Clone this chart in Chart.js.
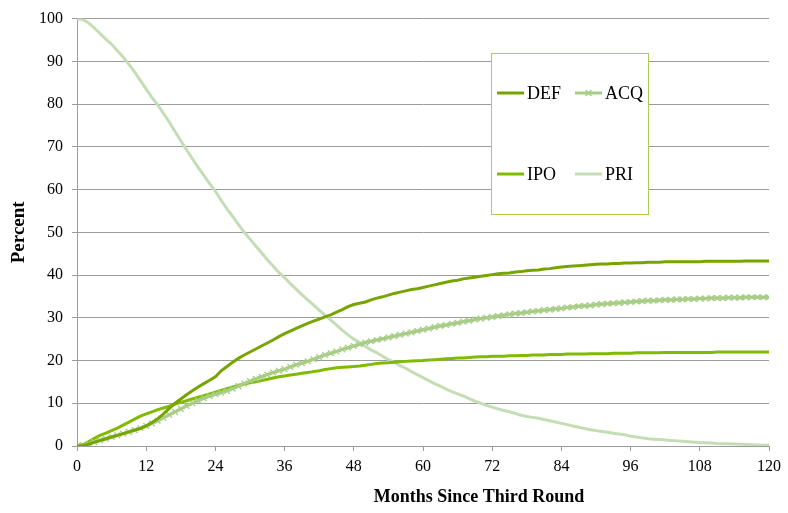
<!DOCTYPE html>
<html>
<head>
<meta charset="utf-8">
<title>Months Since Third Round</title>
<script src="https://cdn.jsdelivr.net/npm/chart.js@4/dist/chart.umd.min.js"></script>
<style>
  html, body { margin: 0; padding: 0; background: #fff; }
  #chart { display: block; }
</style>
</head>
<body>
<canvas id="chart" width="788" height="513"></canvas>
<script>
// months since third round (x categories)
const months = [
  0, 1, 2, 3, 4, 5, 6, 7, 8, 9, 10, 11, 12, 13, 14, 15, 16, 17, 18, 19, 20,
  21, 22, 23, 24, 25, 26, 27, 28, 29, 30, 31, 32, 33, 34, 35, 36, 37, 38, 39, 40,
  41, 42, 43, 44, 45, 46, 47, 48, 49, 50, 51, 52, 53, 54, 55, 56, 57, 58, 59, 60,
  61, 62, 63, 64, 65, 66, 67, 68, 69, 70, 71, 72, 73, 74, 75, 76, 77, 78, 79, 80,
  81, 82, 83, 84, 85, 86, 87, 88, 89, 90, 91, 92, 93, 94, 95, 96, 97, 98, 99, 100,
  101, 102, 103, 104, 105, 106, 107, 108, 109, 110, 111, 112, 113, 114, 115, 116, 117, 118, 119, 120
];

// percent values, one per month
const defValues = [
  0, 0.1, 0.4, 0.9, 1.3, 1.7, 2.1, 2.5, 2.9, 3.3, 3.7, 4.1, 4.7, 5.5, 6.4, 7.5, 8.8, 10, 11, 12, 12.9,
  13.8, 14.6, 15.4, 16.2, 17.6, 18.6, 19.6, 20.5, 21.3, 22, 22.7, 23.4, 24.1, 24.8, 25.6, 26.3, 26.9, 27.5, 28.1, 28.7,
  29.2, 29.7, 30.2, 30.7, 31.3, 31.9, 32.6, 33.1, 33.4, 33.7, 34.2, 34.6, 34.9, 35.3, 35.7, 36, 36.3, 36.6, 36.8, 37.1,
  37.4, 37.7, 38, 38.3, 38.6, 38.8, 39.1, 39.3, 39.5, 39.7, 39.9, 40.1, 40.3, 40.4, 40.5, 40.7, 40.8, 41, 41.1, 41.2,
  41.4, 41.5, 41.7, 41.9, 42, 42.1, 42.2, 42.3, 42.4, 42.5, 42.6, 42.6, 42.7, 42.7, 42.8, 42.8, 42.9, 42.9, 43, 43,
  43, 43.1, 43.1, 43.1, 43.1, 43.1, 43.1, 43.1, 43.2, 43.2, 43.2, 43.2, 43.2, 43.2, 43.2, 43.3, 43.3, 43.3, 43.3, 43.3
];

const acqValues = [
  0, 0.2, 0.5, 0.9, 1.3, 1.7, 2.1, 2.5, 2.9, 3.3, 3.7, 4.2, 4.7, 5.3, 5.9, 6.6, 7.3, 8, 8.7, 9.4, 10,
  10.6, 11.2, 11.7, 12.1, 12.5, 12.9, 13.4, 14, 14.6, 15.2, 15.7, 16.2, 16.7, 17.2, 17.6, 18, 18.5, 19, 19.4, 19.8,
  20.3, 20.8, 21.3, 21.7, 22.1, 22.6, 23, 23.4, 23.8, 24.2, 24.5, 24.8, 25.1, 25.4, 25.7, 26, 26.3, 26.6, 26.9, 27.2,
  27.5, 27.8, 28.1, 28.3, 28.6, 28.8, 29.1, 29.3, 29.6, 29.8, 30, 30.2, 30.4, 30.6, 30.8, 31, 31.1, 31.3, 31.5, 31.6,
  31.8, 31.9, 32.1, 32.2, 32.4, 32.5, 32.7, 32.8, 32.9, 33.1, 33.2, 33.3, 33.4, 33.5, 33.6, 33.7, 33.8, 33.9, 34, 34,
  34.1, 34.2, 34.2, 34.3, 34.3, 34.4, 34.4, 34.5, 34.5, 34.6, 34.6, 34.6, 34.7, 34.7, 34.7, 34.8, 34.8, 34.8, 34.8, 34.8
];

const ipoValues = [
  0, 0.3, 1, 1.8, 2.5, 3, 3.6, 4.2, 4.9, 5.6, 6.3, 7, 7.5, 8, 8.5, 8.9, 9.3, 9.8, 10.2, 10.6, 11,
  11.4, 11.8, 12.2, 12.6, 13, 13.4, 13.8, 14.2, 14.5, 14.8, 15, 15.3, 15.6, 15.9, 16.2, 16.4, 16.6, 16.8, 17, 17.2,
  17.4, 17.6, 17.9, 18.1, 18.3, 18.4, 18.5, 18.6, 18.7, 18.9, 19.1, 19.3, 19.4, 19.5, 19.6, 19.7, 19.8, 19.9, 19.95, 20,
  20.1, 20.2, 20.3, 20.4, 20.5, 20.6, 20.6, 20.7, 20.8, 20.9, 20.9, 21, 21, 21, 21.1, 21.1, 21.2, 21.2, 21.3, 21.3,
  21.3, 21.4, 21.4, 21.4, 21.5, 21.5, 21.5, 21.5, 21.6, 21.6, 21.6, 21.6, 21.7, 21.7, 21.7, 21.7, 21.8, 21.8, 21.8, 21.8,
  21.8, 21.9, 21.9, 21.9, 21.9, 21.9, 21.9, 21.9, 21.9, 21.9, 22, 22, 22, 22, 22, 22, 22, 22, 22, 22
];

const priValues = [
  100, 99.8, 99, 97.8, 96.5, 95.2, 94, 92.5, 91, 89.3, 87.5, 85.5, 83.5, 81.5, 79.8, 77.8, 75.8, 73.6, 71.4, 69.3, 67.2,
  65.2, 63.3, 61.4, 59.6, 57.5, 55.5, 53.7, 51.8, 50, 48.4, 46.8, 45.2, 43.6, 42.1, 40.6, 39.4, 38, 36.7, 35.4, 34.2,
  33, 31.8, 30.6, 29.5, 28.3, 27.1, 26, 25, 24.2, 23.3, 22.5, 21.8, 21, 20.2, 19.6, 18.8, 18.2, 17.4, 16.7, 16,
  15.3, 14.6, 14, 13.3, 12.7, 12.2, 11.7, 11.1, 10.5, 10, 9.5, 9.1, 8.7, 8.3, 8, 7.6, 7.2, 6.9, 6.7, 6.5,
  6.2, 5.9, 5.6, 5.3, 5, 4.7, 4.4, 4.1, 3.8, 3.6, 3.4, 3.2, 3, 2.8, 2.6, 2.3, 2.1, 1.9, 1.7, 1.6,
  1.5, 1.4, 1.3, 1.2, 1.1, 1, 0.9, 0.8, 0.75, 0.7, 0.6, 0.55, 0.5, 0.45, 0.4, 0.35, 0.3, 0.25, 0.2, 0.2
];

const seriesNames = ["DEF", "ACQ", "IPO", "PRI"];
const seriesColors = ["#76a500", "#a7cd86", "#80bb00", "#c5ddb5"];

const xTitle = "Months Since Third Round";
const yTitle = "Percent";

const FONT = "'Liberation Serif', 'Times New Roman', serif";
const GRID = "#9c9c9c";

// legend box drawn inside the plot, two columns like the original
const legendBox = {
  id: "legendBox",
  afterDatasetsDraw(chart) {
    const { ctx } = chart;
    const box = { x: 491.5, y: 53.5, w: 157, h: 161 };
    ctx.save();
    ctx.fillStyle = "#ffffff";
    ctx.fillRect(box.x, box.y, box.w, box.h);
    ctx.strokeStyle = "#a8d04e";
    ctx.lineWidth = 1;
    ctx.strokeRect(box.x, box.y, box.w, box.h);

    const slots = [
      { x: 497, y: 93 },
      { x: 575, y: 93 },
      { x: 497, y: 174 },
      { x: 575, y: 174 },
    ];
    ctx.font = "18px " + FONT;
    ctx.textBaseline = "middle";
    chart.data.datasets.forEach((ds, i) => {
      const s = slots[i];
      ctx.strokeStyle = ds.borderColor;
      ctx.lineWidth = 3;
      ctx.beginPath();
      ctx.moveTo(s.x, s.y);
      ctx.lineTo(s.x + 27, s.y);
      ctx.stroke();
      if (ds.pointStyle === "crossRot") {
        ctx.lineWidth = 1.3;
        const cx = s.x + 13.5;
        ctx.beginPath();
        ctx.moveTo(cx - 3, s.y - 3);
        ctx.lineTo(cx + 3, s.y + 3);
        ctx.moveTo(cx + 3, s.y - 3);
        ctx.lineTo(cx - 3, s.y + 3);
        ctx.stroke();
      }
      ctx.fillStyle = "#000000";
      ctx.fillText(ds.label, s.x + 30, s.y + 1);
    });
    ctx.restore();
  },
};

// x axis title sits right of the plot centre in the original
const xTitlePlugin = {
  id: "xTitlePlugin",
  afterDraw(chart) {
    const { ctx } = chart;
    ctx.save();
    ctx.font = "bold 18px " + FONT;
    ctx.fillStyle = "#000000";
    ctx.textAlign = "center";
    ctx.textBaseline = "middle";
    ctx.fillText(xTitle, 479, 497);
    ctx.restore();
  },
};

const makeLine = (i, values) => ({
  label: seriesNames[i],
  data: values,
  borderColor: seriesColors[i],
  backgroundColor: seriesColors[i],
  borderWidth: 3,
  pointRadius: 0,
  tension: 0,
  fill: false,
});

const acqSet = makeLine(1, acqValues);
acqSet.pointStyle = "crossRot";
acqSet.pointRadius = 4;
acqSet.pointBorderWidth = 1.4;
acqSet.pointBorderColor = seriesColors[1];

new Chart(document.getElementById("chart"), {
  type: "line",
  data: {
    labels: months,
    datasets: [
      makeLine(0, defValues),
      acqSet,
      makeLine(2, ipoValues),
      makeLine(3, priValues),
    ],
  },
  options: {
    responsive: false,
    animation: false,
    events: [],
    layout: { padding: { top: 16, right: 19, left: 0, bottom: 0 } },
    plugins: {
      legend: { display: false },
      tooltip: { enabled: false },
    },
    scales: {
      x: {
        type: "linear",
        min: 0,
        max: 120,
        ticks: {
          stepSize: 12,
          color: "#000",
          padding: 6,
          maxRotation: 0,
          font: { family: FONT, size: 16 },
        },
        grid: {
          drawOnChartArea: false,
          drawTicks: true,
          tickLength: 5,
          color: GRID,
        },
        border: { color: GRID, width: 1 },
        afterFit(scale) {
          scale.height = 513 - 446;
        },
      },
      y: {
        min: 0,
        max: 100,
        ticks: {
          stepSize: 10,
          color: "#000",
          padding: 9,
          font: { family: FONT, size: 16 },
        },
        grid: {
          color: GRID,
          lineWidth: 1,
          tickLength: 5,
        },
        border: { color: GRID, width: 1 },
        title: {
          display: true,
          text: yTitle,
          color: "#000",
          padding: { top: 8, bottom: 4 },
          font: { family: FONT, size: 19, weight: "bold" },
        },
        afterFit(scale) {
          scale.width = 77;
        },
      },
    },
  },
  plugins: [legendBox, xTitlePlugin],
});
</script>
</body>
</html>
